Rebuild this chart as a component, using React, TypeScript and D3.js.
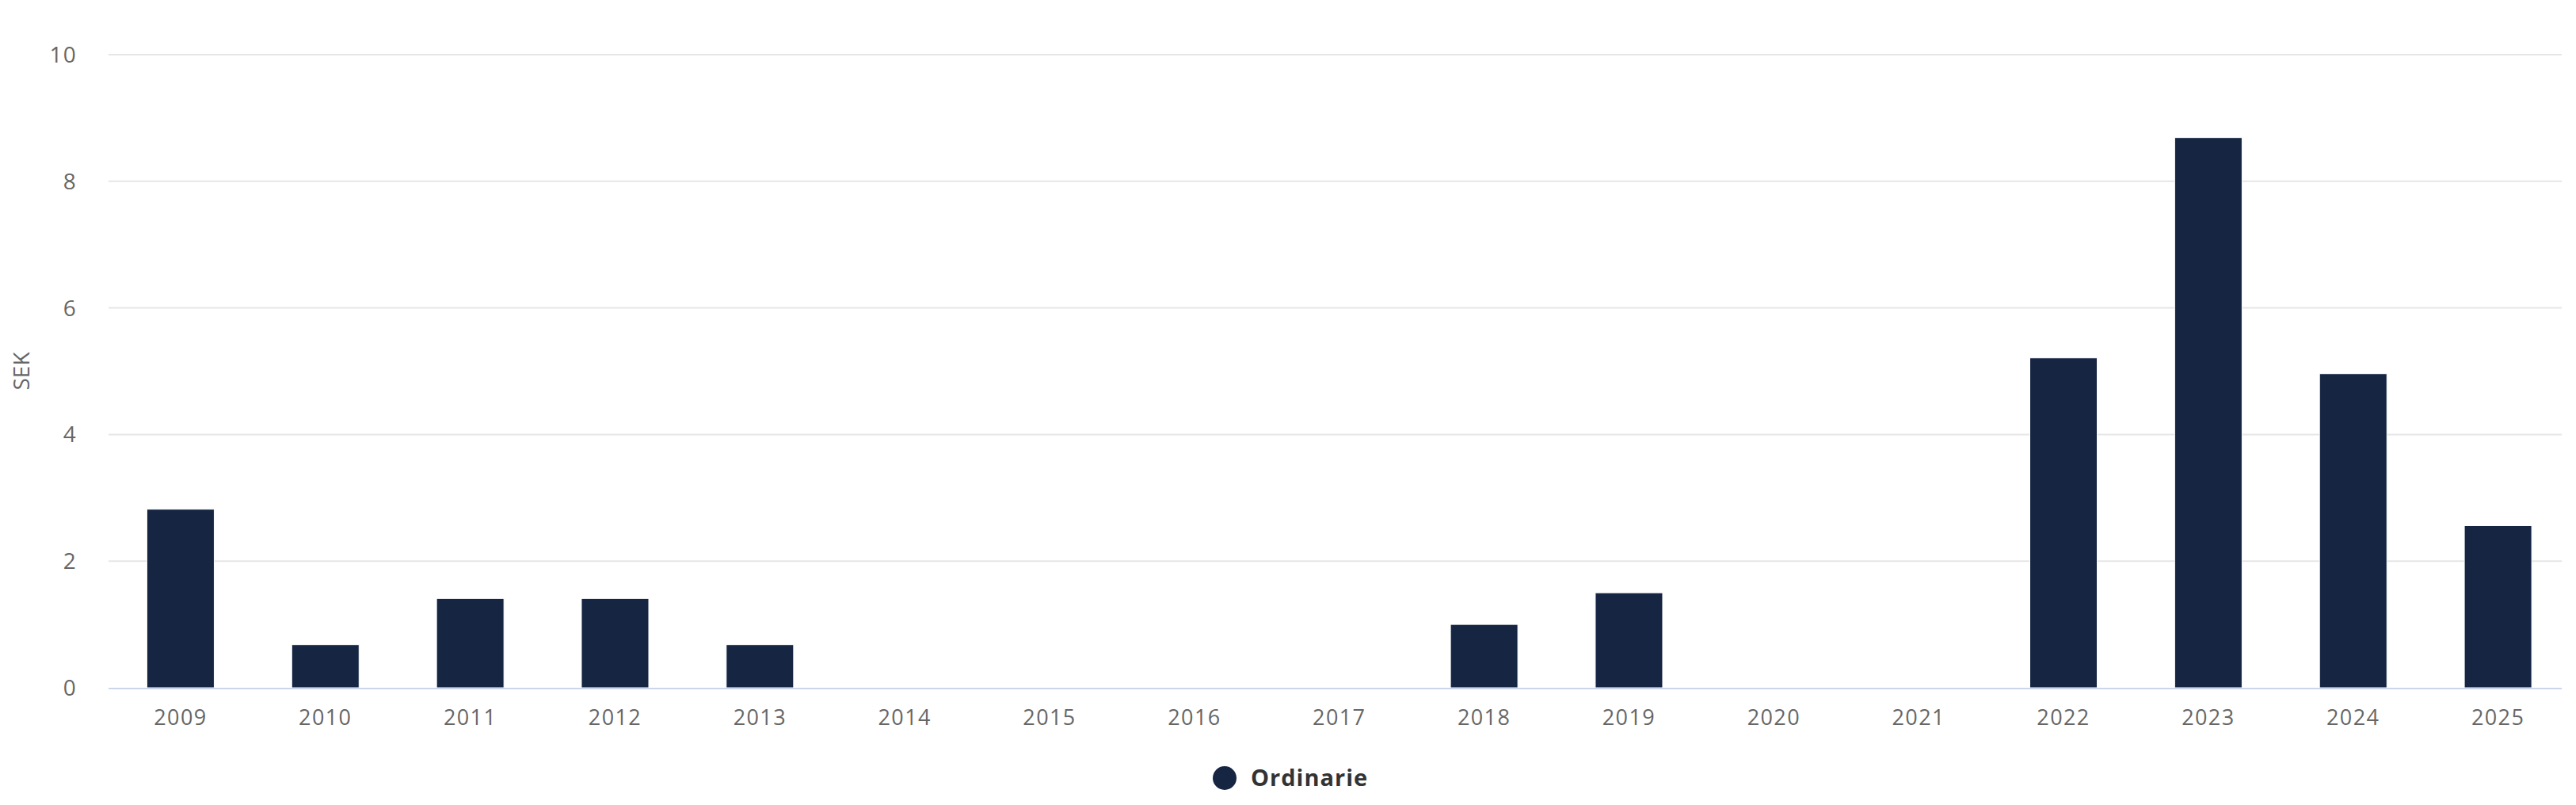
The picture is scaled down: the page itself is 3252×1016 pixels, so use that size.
import React from "react";
import * as d3 from "d3";

const years = ["2009","2010","2011","2012","2013","2014","2015","2016","2017","2018","2019","2020","2021","2022","2023","2024","2025"];
const ordinarie = [2.82, 0.68, 1.41, 1.41, 0.68, 0, 0, 0, 0, 1.0, 1.5, 0, 0, 5.21, 8.69, 4.96, 2.56];
const yTicks = [0, 2, 4, 6, 8, 10];
const seriesName = "Ordinarie";
const yTitle = "SEK";

const W = 3252, H = 1016;
const plotLeft = 137, plotRight = 3234;
const bandLeft = 136.5, bandRight = 3245;
const yTop = 69, yBottom = 868;
const font = "'Open Sans', sans-serif";
const barColor = "#152542";

export default function App() {
  const x = d3.scaleBand<string>().domain(years).range([bandLeft, bandRight]).paddingInner(0.535).paddingOuter(0.2675);
  const y = d3.scaleLinear().domain([0, 10]).range([yBottom, yTop]);
  const bw = x.bandwidth();
  return (
    <svg width={W} height={H} style={{ position: "absolute", left: 0, top: 0, background: "#fff" }}>
      <rect x={0} y={0} width={W} height={H} fill="#fff" />
      {yTicks.map(t => (
        <g key={t}>
          {t !== 0 && <line x1={plotLeft} x2={plotRight} y1={y(t)} y2={y(t)} stroke="#e6e6e6" strokeWidth={2} />}
          <text x={97} y={y(t) + 10} textAnchor="end" fontFamily={font} fontSize={28} letterSpacing={1.2} fill="#666">{t}</text>
        </g>
      ))}
      <text transform={`translate(37,${(yTop + yBottom) / 2}) rotate(-90)`} textAnchor="middle" fontFamily={font} fontSize={28} fill="#666">{yTitle}</text>
      {years.map((yr, i) => ordinarie[i] > 0 ? (
        <rect key={yr} x={x(yr)!} y={y(ordinarie[i])} width={bw} height={y(0) - y(ordinarie[i])} fill={barColor} stroke="#fff" strokeWidth={1} />
      ) : null)}
      <line x1={plotLeft} x2={plotRight} y1={yBottom + 1} y2={yBottom + 1} stroke="#ccd6eb" strokeWidth={2} />
      {years.map(yr => (
        <text key={yr} x={x(yr)! + bw / 2} y={915} textAnchor="middle" fontFamily={font} fontSize={27} letterSpacing={1.4} fill="#666">{yr}</text>
      ))}
      <circle cx={1546} cy={982} r={15} fill={barColor} />
      <text x={1579} y={992} fontFamily={font} fontSize={29} fontWeight="bold" letterSpacing={1} fill="#333">{seriesName}</text>
    </svg>
  );
}
